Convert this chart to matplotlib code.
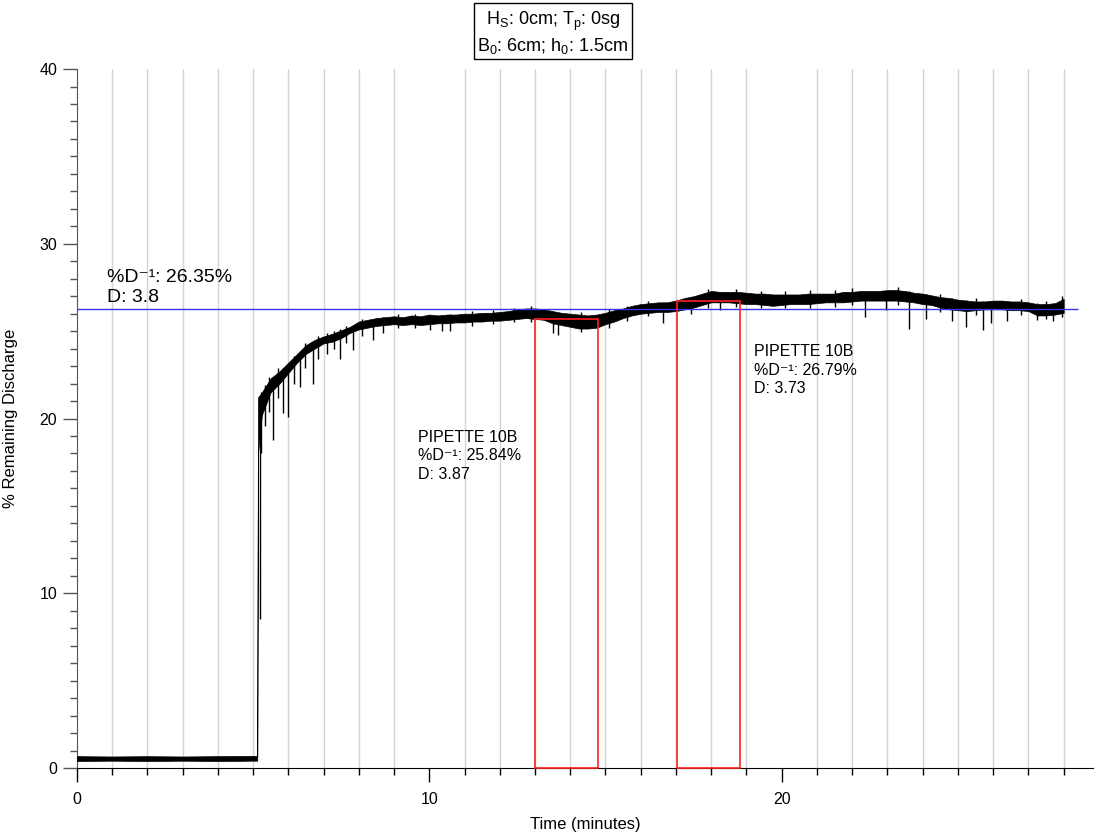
import matplotlib
matplotlib.use("Agg")
import matplotlib.pyplot as plt
from matplotlib.patches import Rectangle
from matplotlib.ticker import MultipleLocator

plt.rcParams['font.family'] = ['Liberation Sans', 'DejaVu Sans']
plt.rcParams['mathtext.default'] = 'regular'

#
# Discharge trace, read off the picture as an upper / lower band (minutes, %)
trace_t = [0.0, 1.0, 2.0, 3.0, 4.0, 5.0, 5.12, 5.14,
           5.25, 5.5, 5.75, 6.0, 6.25, 6.5, 6.75, 7.0, 7.25, 7.5, 7.75,
           8.0, 8.25, 8.5, 8.75, 9.0, 9.25, 9.5, 9.75, 10.0, 10.25, 10.5, 10.75,
           11.0, 11.25, 11.5, 11.75, 12.0, 12.25, 12.5, 12.75, 13.0, 13.25, 13.5,
           13.75, 14.0, 14.25, 14.5, 14.75, 15.0, 15.25, 15.5, 15.75, 16.0, 16.25,
           16.5, 16.75, 17.0, 17.25, 17.5, 17.75, 18.0, 18.25, 18.5, 18.75, 19.0,
           19.25, 19.5, 19.75, 20.0, 20.25, 20.5, 20.75, 21.0, 21.25, 21.5, 21.75,
           22.0, 22.25, 22.5, 22.75, 23.0, 23.25, 23.5, 23.75, 24.0, 24.25, 24.5,
           24.75, 25.0, 25.25, 25.5, 25.75, 26.0, 26.25, 26.5, 26.75, 27.0, 27.25,
           27.5, 27.75, 28.0]
trace_hi = [0.68, 0.66, 0.68, 0.66, 0.68, 0.7, 0.68, 21.2,
            21.5, 22.3, 22.7, 23.2, 23.7, 24.2, 24.5, 24.7, 24.85, 25.05, 25.25,
            25.55, 25.65, 25.75, 25.8, 25.85, 25.8, 25.9, 25.85, 25.95, 25.9, 25.95, 25.95,
            26.0, 26.0, 26.05, 26.05, 26.1, 26.15, 26.25, 26.3, 26.3, 26.25, 26.15,
            26.05, 26.0, 25.95, 25.9, 25.95, 26.05, 26.2, 26.3, 26.45, 26.55, 26.6,
            26.65, 26.65, 26.75, 26.9, 27.0, 27.15, 27.3, 27.25, 27.25, 27.25, 27.2,
            27.15, 27.15, 27.1, 27.1, 27.1, 27.1, 27.15, 27.15, 27.15, 27.15, 27.25,
            27.25, 27.3, 27.3, 27.3, 27.35, 27.35, 27.3, 27.2, 27.15, 27.05, 26.95,
            26.9, 26.8, 26.75, 26.7, 26.7, 26.75, 26.75, 26.7, 26.7, 26.65, 26.55,
            26.55, 26.6, 26.85]
trace_lo = [0.4, 0.42, 0.4, 0.42, 0.4, 0.42, 0.42, 18.0,
            20.2, 21.5, 22.0, 22.6, 23.2, 23.7, 24.0, 24.3, 24.4, 24.6, 24.9,
            25.1, 25.2, 25.3, 25.35, 25.4, 25.35, 25.4, 25.35, 25.4, 25.45, 25.45, 25.5,
            25.5, 25.55, 25.55, 25.6, 25.6, 25.65, 25.7, 25.75, 25.7, 25.65, 25.45,
            25.35, 25.25, 25.15, 25.15, 25.2, 25.4, 25.55, 25.75, 25.9, 26.0, 26.05,
            26.1, 26.1, 26.15, 26.25, 26.35, 26.5, 26.65, 26.65, 26.65, 26.6, 26.55,
            26.55, 26.5, 26.45, 26.5, 26.55, 26.55, 26.55, 26.6, 26.65, 26.65, 26.65,
            26.7, 26.75, 26.75, 26.75, 26.75, 26.75, 26.7, 26.65, 26.55, 26.5, 26.35,
            26.25, 26.2, 26.15, 26.2, 26.25, 26.25, 26.25, 26.2, 26.2, 26.15, 25.9,
            25.9, 25.95, 26.05]

#
# Spikes in the trace (time, low end, high end)
spike_t = [5.2, 5.24, 5.33, 5.45, 5.58, 5.7, 5.86, 6.0, 6.15, 6.33, 6.48, 6.69,
           6.85, 7.09, 7.3, 7.47, 7.65, 7.85, 8.1, 8.41, 8.7, 9.1, 9.6,
           10.02, 10.35, 10.59, 11.2, 11.8, 12.4, 12.9, 13.52, 13.66, 14.3, 15.1,
           15.6, 16.2, 16.62, 17.44, 17.9, 18.24, 18.7, 19.4, 20.1, 20.8, 21.5,
           22.0, 22.36, 22.95, 23.3, 23.62, 24.09, 24.5, 24.82, 25.22, 25.5,
           25.72, 25.95, 26.38, 26.8, 27.25, 27.5, 27.7, 27.95]
spike_lo = [8.5, 18.0, 19.6, 20.4, 18.8, 21.2, 20.3, 20.1, 22.0, 21.8, 22.9, 22.0,
            23.4, 23.7, 24.0, 23.4, 24.3, 23.9, 24.7, 24.5, 24.9, 25.2, 25.2,
            25.05, 25.0, 25.0, 25.3, 25.4, 25.5, 25.55, 24.9, 24.8, 24.95, 25.2,
            25.6, 25.85, 25.45, 26.0, 26.3, 26.2, 26.4, 26.3, 26.3, 26.35, 26.4,
            26.5, 25.8, 26.2, 26.5, 25.1, 25.7, 26.1, 25.6, 25.25, 25.9,
            25.05, 25.45, 25.6, 25.95, 25.65, 25.7, 25.6, 25.8]
spike_hi = [21.0, 21.5, 21.9, 22.4, 22.4, 22.9, 22.9, 23.1, 23.6, 23.7, 24.3, 24.4,
            24.7, 24.9, 25.0, 25.1, 25.3, 25.3, 25.7, 25.6, 25.8, 26.0, 26.0,
            25.9, 25.9, 26.0, 26.15, 26.2, 26.35, 26.45, 26.0, 26.0, 26.1, 26.25,
            26.45, 26.75, 26.6, 26.9, 27.4, 27.2, 27.4, 27.3, 27.3, 27.35, 27.35,
            27.45, 27.3, 27.3, 27.55, 27.3, 27.1, 27.1, 26.9, 26.8, 26.9,
            26.7, 26.7, 26.7, 26.85, 26.6, 26.7, 26.6, 27.0]

#
# Reference level and pipette samples
ref_level = 26.25
ref_end = 28.4
box_start = [13.0, 17.03]
box_end = [14.79, 18.81]
box_top = [25.7, 26.7]
box_text = ['PIPETTE 10B\n%D\u207b\u00b9: 25.84%\nD: 3.87',
            'PIPETTE 10B\n%D\u207b\u00b9: 26.79%\nD: 3.73']
box_text_pos = [(9.68, 19.35), (19.2, 24.25)]

fig = plt.figure(figsize=(10.94, 8.32), dpi=100)
ax = fig.add_axes([0.0702, 0.0769, 0.9298, 0.8401])

ax.fill_between(trace_t, trace_lo, trace_hi, color='black', lw=0.5, zorder=3)
ax.vlines(spike_t, spike_lo, spike_hi, color='black', lw=1.0, zorder=3)

ax.hlines(ref_level, 0, ref_end, color='#3535ee', lw=1.0, zorder=4)

for x0, x1, top in zip(box_start, box_end, box_top):
    ax.add_patch(Rectangle((x0, 0), x1 - x0, top, fill=False,
                           ec='#ff2020', lw=1.2, zorder=5, clip_on=False))

for txt, (tx, ty) in zip(box_text, box_text_pos):
    ax.text(tx, ty, txt, fontsize=11.5, ha='left', va='top', linespacing=1.3)

ax.text(0.87, 28.55, '%D\u207b\u00b9: 26.35%\nD: 3.8', fontsize=14,
        ha='left', va='top', linespacing=1.2)

fig.text(0.5055, 0.961, 'H$_S$: 0cm; T$_p$: 0sg\nB$_0$: 6cm; h$_0$: 1.5cm',
         fontsize=13, ha='center', va='center', linespacing=1.2,
         bbox=dict(boxstyle='square,pad=0.2', fc='white', ec='black', lw=1))

ax.set_xlim(0, 28.86)
ax.set_ylim(0, 40)
ax.xaxis.set_major_locator(MultipleLocator(10))
ax.xaxis.set_minor_locator(MultipleLocator(1))
ax.yaxis.set_major_locator(MultipleLocator(10))
ax.yaxis.set_minor_locator(MultipleLocator(1))
ax.grid(True, which='minor', axis='x', color='#d4d4d4', lw=1.0)
ax.set_axisbelow(True)

ax.spines['top'].set_visible(False)
ax.spines['right'].set_visible(False)
ax.spines['left'].set_color('#555555')
ax.spines['bottom'].set_color('black')
ax.tick_params(axis='both', which='major', length=10, width=1, labelsize=11.5, pad=4)
ax.tick_params(axis='both', which='minor', length=5, width=1)
ax.tick_params(axis='y', which='both', color='#555555')
ax.tick_params(axis='x', which='major', pad=7)

ax.set_xlabel('Time (minutes)', fontsize=12)
ax.xaxis.set_label_coords(0.5, -0.0695)
ax.set_ylabel('% Remaining Discharge', fontsize=12)
ax.yaxis.set_label_coords(-0.058, 0.5)

fig.savefig('out.png', dpi=100)
